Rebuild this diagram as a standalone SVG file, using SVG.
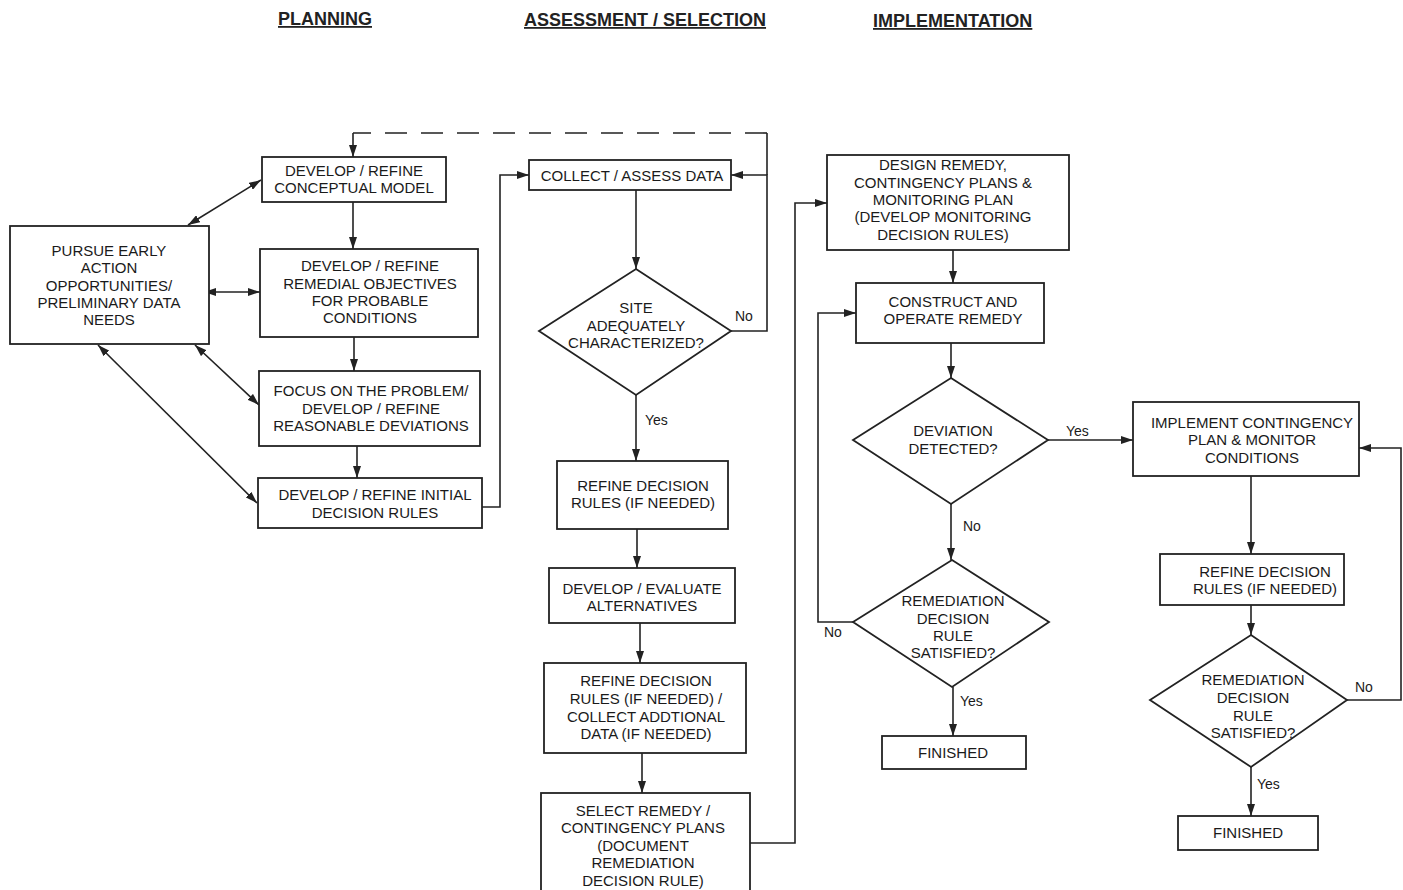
<svg xmlns="http://www.w3.org/2000/svg" width="1403" height="890" viewBox="0 0 1403 890">
<defs>
<marker id="ah" viewBox="0 0 12 8" refX="12" refY="4" markerWidth="12" markerHeight="8" markerUnits="userSpaceOnUse" orient="auto-start-reverse">
<path d="M0,0 L12,4 L0,8 Z" fill="#222"/>
</marker>
</defs>
<style>
.bx{fill:#fff;stroke:#222;stroke-width:1.8}
.t{font-family:"Liberation Sans",Arial,sans-serif;font-size:15px;fill:#1a1a1a;text-anchor:middle}
.lb{font-family:"Liberation Sans",Arial,sans-serif;font-size:14px;fill:#1a1a1a}
.hd{font-family:"Liberation Sans",Arial,sans-serif;font-size:18px;font-weight:bold;fill:#222;text-decoration:underline}
.c{fill:none;stroke:#222;stroke-width:1.6}
.a{marker-end:url(#ah)}
.d{marker-start:url(#ah);marker-end:url(#ah)}
</style>
<rect width="1403" height="890" fill="#fff"/>
<g id="headers">
<text class="hd" x="278" y="25">PLANNING</text>
<text class="hd" x="524" y="26">ASSESSMENT / SELECTION</text>
<text class="hd" x="873" y="27">IMPLEMENTATION</text>
</g>
<g id="connectors">
<path class="c" d="M767,175 V133" />
<path class="c" d="M767,133 H353" stroke-dasharray="22,14"/>
<path class="c a" d="M353,133 V157"/>
<path class="c a" d="M353,202 V249"/>
<path class="c a" d="M354,337 V371"/>
<path class="c a" d="M357,446 V478"/>
<path class="c d" d="M188,225 L261,180"/>
<path class="c d" d="M204,292 H260"/>
<path class="c d" d="M195,345 L259,405"/>
<path class="c d" d="M98,345 L257,503"/>
<path class="c a" d="M482,507 H500 V175 H529"/>
<path class="c a" d="M636,190 V269"/>
<path class="c a" d="M731,331 H767 V175 H731"/>
<path class="c a" d="M636,395 V461"/>
<path class="c a" d="M637,529 V568"/>
<path class="c a" d="M640,623 V663"/>
<path class="c a" d="M642,753 V793"/>
<path class="c a" d="M750,843 H795 V203 H827"/>
<path class="c a" d="M953,250 V283"/>
<path class="c a" d="M951,343 V378"/>
<path class="c a" d="M1048,440 H1133"/>
<path class="c a" d="M951,504 V560"/>
<path class="c a" d="M853,622 H818 V313 H856"/>
<path class="c a" d="M953,687 V736"/>
<path class="c a" d="M1251,476 V554"/>
<path class="c a" d="M1251,605 V635"/>
<path class="c a" d="M1347,700 H1401 V448 H1359"/>
<path class="c a" d="M1251,767 V816"/>
<text class="lb" x="735" y="321">No</text>
<text class="lb" x="645" y="425">Yes</text>
<text class="lb" x="1066" y="436">Yes</text>
<text class="lb" x="963" y="531">No</text>
<text class="lb" x="824" y="637">No</text>
<text class="lb" x="960" y="706">Yes</text>
<text class="lb" x="1355" y="692">No</text>
<text class="lb" x="1257" y="789">Yes</text>
</g>
<g id="conceptual">
<rect class="bx" x="262" y="157" width="184" height="45"/>
<text class="t" x="354" y="176">DEVELOP / REFINE</text>
<text class="t" x="354" y="193">CONCEPTUAL MODEL</text>
</g>
<g id="pursue">
<rect class="bx" x="10" y="226" width="199" height="118"/>
<text class="t" x="109" y="256">PURSUE EARLY</text>
<text class="t" x="109" y="273">ACTION</text>
<text class="t" x="109" y="291">OPPORTUNITIES/</text>
<text class="t" x="109" y="308">PRELIMINARY DATA</text>
<text class="t" x="109" y="325">NEEDS</text>
</g>
<g id="remedial">
<rect class="bx" x="260" y="249" width="218" height="88"/>
<text class="t" x="370" y="271">DEVELOP / REFINE</text>
<text class="t" x="370" y="289">REMEDIAL OBJECTIVES</text>
<text class="t" x="370" y="306">FOR PROBABLE</text>
<text class="t" x="370" y="323">CONDITIONS</text>
</g>
<g id="focus">
<rect class="bx" x="259" y="371" width="221" height="75"/>
<text class="t" x="371" y="396">FOCUS ON THE PROBLEM/</text>
<text class="t" x="371" y="414">DEVELOP / REFINE</text>
<text class="t" x="371" y="431">REASONABLE DEVIATIONS</text>
</g>
<g id="initial">
<rect class="bx" x="258" y="478" width="224" height="50"/>
<text class="t" x="375" y="500">DEVELOP / REFINE INITIAL</text>
<text class="t" x="375" y="518">DECISION RULES</text>
</g>
<g id="collect">
<rect class="bx" x="529" y="160" width="202" height="30"/>
<text class="t" x="632" y="181">COLLECT / ASSESS DATA</text>
</g>
<g id="site">
<polygon class="bx" points="636,269 731,331 636,395 539,331"/>
<text class="t" x="636" y="313">SITE</text>
<text class="t" x="636" y="331">ADEQUATELY</text>
<text class="t" x="636" y="348">CHARACTERIZED?</text>
</g>
<g id="refine1">
<rect class="bx" x="557" y="461" width="171" height="68"/>
<text class="t" x="643" y="491">REFINE DECISION</text>
<text class="t" x="643" y="508">RULES (IF NEEDED)</text>
</g>
<g id="evaluate">
<rect class="bx" x="549" y="568" width="186" height="55"/>
<text class="t" x="642" y="594">DEVELOP / EVALUATE</text>
<text class="t" x="642" y="611">ALTERNATIVES</text>
</g>
<g id="refine2">
<rect class="bx" x="544" y="663" width="202" height="90"/>
<text class="t" x="646" y="686">REFINE DECISION</text>
<text class="t" x="646" y="704">RULES (IF NEEDED) /</text>
<text class="t" x="646" y="722">COLLECT ADDTIONAL</text>
<text class="t" x="646" y="739">DATA (IF NEEDED)</text>
</g>
<g id="select">
<rect class="bx" x="541" y="793" width="209" height="105"/>
<text class="t" x="643" y="816">SELECT REMEDY /</text>
<text class="t" x="643" y="833">CONTINGENCY PLANS</text>
<text class="t" x="643" y="851">(DOCUMENT</text>
<text class="t" x="643" y="868">REMEDIATION</text>
<text class="t" x="643" y="886">DECISION RULE)</text>
</g>
<g id="design">
<rect class="bx" x="827" y="155" width="242" height="95"/>
<text class="t" x="943" y="170">DESIGN REMEDY,</text>
<text class="t" x="943" y="188">CONTINGENCY PLANS &amp;</text>
<text class="t" x="943" y="205">MONITORING PLAN</text>
<text class="t" x="943" y="222">(DEVELOP MONITORING</text>
<text class="t" x="943" y="240">DECISION RULES)</text>
</g>
<g id="construct">
<rect class="bx" x="856" y="283" width="188" height="60"/>
<text class="t" x="953" y="307">CONSTRUCT AND</text>
<text class="t" x="953" y="324">OPERATE REMEDY</text>
</g>
<g id="deviation">
<polygon class="bx" points="951,378 1048,440 951,504 853,440"/>
<text class="t" x="953" y="436">DEVIATION</text>
<text class="t" x="953" y="454">DETECTED?</text>
</g>
<g id="remediation1">
<polygon class="bx" points="952,560 1049,622 952,687 853,622"/>
<text class="t" x="953" y="606">REMEDIATION</text>
<text class="t" x="953" y="624">DECISION</text>
<text class="t" x="953" y="641">RULE</text>
<text class="t" x="953" y="658">SATISFIED?</text>
</g>
<g id="finished1">
<rect class="bx" x="882" y="736" width="144" height="33"/>
<text class="t" x="953" y="758">FINISHED</text>
</g>
<g id="implement">
<rect class="bx" x="1133" y="402" width="226" height="74"/>
<text class="t" x="1252" y="428">IMPLEMENT CONTINGENCY</text>
<text class="t" x="1252" y="445">PLAN &amp; MONITOR</text>
<text class="t" x="1252" y="463">CONDITIONS</text>
</g>
<g id="refine3">
<rect class="bx" x="1160" y="554" width="184" height="51"/>
<text class="t" x="1265" y="577">REFINE DECISION</text>
<text class="t" x="1265" y="594">RULES (IF NEEDED)</text>
</g>
<g id="remediation2">
<polygon class="bx" points="1251,635 1347,700 1251,767 1150,700"/>
<text class="t" x="1253" y="685">REMEDIATION</text>
<text class="t" x="1253" y="703">DECISION</text>
<text class="t" x="1253" y="721">RULE</text>
<text class="t" x="1253" y="738">SATISFIED?</text>
</g>
<g id="finished2">
<rect class="bx" x="1178" y="816" width="140" height="34"/>
<text class="t" x="1248" y="838">FINISHED</text>
</g>
</svg>
